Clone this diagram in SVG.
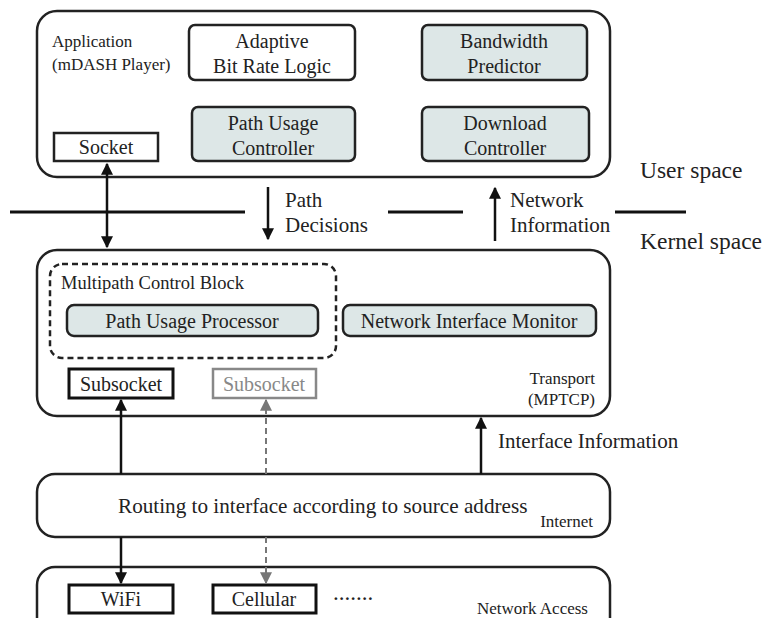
<svg xmlns="http://www.w3.org/2000/svg" width="767" height="618" viewBox="0 0 767 618">
<style>
text{font-family:"Liberation Serif","Times New Roman",serif;fill:#222}
.layer{fill:#fff;stroke:#222;stroke-width:2.5}
.blk{fill:#fff;stroke:#222;stroke-width:2.5}
.sh{fill:#dde7e7;stroke:#222;stroke-width:2.5}
.sq{fill:#fff;stroke:#222;stroke-width:2.5}
.c{text-anchor:middle;font-size:20px}
.lb{font-size:21px}
.sm{font-size:17px}
.se{font-size:17px;text-anchor:end}
.big{font-size:23.5px}
.ln{stroke:#111;stroke-width:2.5;fill:none}
.gd{stroke:#777;stroke-width:2;fill:none;stroke-dasharray:6,4}
</style>
<defs>
<marker id="a" viewBox="0 0 10 10" refX="9" refY="5" markerWidth="12" markerHeight="12" orient="auto-start-reverse" markerUnits="userSpaceOnUse"><path d="M0,0 L10,5 L0,10 z" fill="#111"/></marker>
<marker id="ag" viewBox="0 0 10 10" refX="9" refY="5" markerWidth="12" markerHeight="12" orient="auto-start-reverse" markerUnits="userSpaceOnUse"><path d="M0,0 L10,5 L0,10 z" fill="#777"/></marker>
</defs>

<g id="separator">
<line x1="10" y1="212" x2="245" y2="212" stroke="#111" stroke-width="3"/>
<line x1="388" y1="212" x2="463" y2="212" stroke="#111" stroke-width="3"/>
<line x1="615" y1="212" x2="686" y2="212" stroke="#111" stroke-width="3"/>
<text x="640" y="178" class="big">User space</text>
<text x="640" y="249" class="big">Kernel space</text>
</g>

<g id="application">
<rect x="37" y="11" width="573" height="166" rx="20" class="layer"/>
<text x="52" y="47" class="sm">Application</text>
<text x="52" y="70" class="sm">(mDASH Player)</text>
</g>
<g id="abr">
<rect x="189" y="25" width="166" height="55" rx="6" class="blk"/>
<text x="272" y="48" class="c">Adaptive</text>
<text x="272" y="73" class="c">Bit Rate Logic</text>
</g>
<g id="bandwidth">
<rect x="422" y="25" width="165" height="55" rx="6" class="sh"/>
<text x="504" y="48" class="c">Bandwidth</text>
<text x="504" y="73" class="c">Predictor</text>
</g>
<g id="puc">
<rect x="192" y="107" width="163" height="54" rx="6" class="sh"/>
<text x="273" y="130" class="c">Path Usage</text>
<text x="273" y="155" class="c">Controller</text>
</g>
<g id="download">
<rect x="422" y="107" width="167" height="54" rx="6" class="sh"/>
<text x="505" y="130" class="c">Download</text>
<text x="505" y="155" class="c">Controller</text>
</g>
<g id="socket">
<rect x="54" y="133" width="104" height="28" class="sq"/>
<text x="106" y="154" class="c">Socket</text>
</g>

<g id="transport">
<rect x="37" y="250" width="573" height="166" rx="20" class="layer"/>
<text x="595" y="384" class="se">Transport</text>
<text x="595" y="405" class="se">(MPTCP)</text>
</g>
<g id="mpcb">
<rect x="50" y="264" width="286" height="94" rx="12" fill="none" stroke="#222" stroke-width="2.5" stroke-dasharray="6,4"/>
<text x="61" y="289" font-size="18.5">Multipath Control Block</text>
</g>
<g id="pup">
<rect x="67" y="305" width="251" height="31" rx="7" class="sh"/>
<text x="192" y="328" class="c">Path Usage Processor</text>
</g>
<g id="nim">
<rect x="343" y="305" width="253" height="31" rx="7" class="sh"/>
<text x="469" y="328" class="c">Network Interface Monitor</text>
</g>
<g id="subsocket1">
<rect x="69" y="369" width="104" height="29" fill="#fff" stroke="#111" stroke-width="3"/>
<text x="121" y="391" class="c">Subsocket</text>
</g>
<g id="subsocket2">
<rect x="213" y="369" width="103" height="29" fill="#fff" stroke="#888" stroke-width="2.5"/>
<text x="264" y="391" class="c" style="fill:#888">Subsocket</text>
</g>

<g id="internet">
<rect x="37" y="474" width="573" height="63" rx="18" class="layer"/>
<text x="118" y="513" font-size="21.2">Routing to interface according to source address</text>
<text x="593" y="527" class="se">Internet</text>
</g>

<g id="netaccess">
<rect x="37" y="567" width="573" height="80" rx="18" class="layer"/>
<text x="588" y="614" class="se">Network Access</text>
</g>
<g id="wifi">
<rect x="69" y="585" width="104" height="28" fill="#fff" stroke="#111" stroke-width="3"/>
<text x="121" y="606" class="c">WiFi</text>
</g>
<g id="cellular">
<rect x="213" y="585" width="103" height="28" fill="#fff" stroke="#111" stroke-width="3"/>
<text x="264" y="606" class="c">Cellular</text>
</g>
<text x="333" y="600" font-size="23">.......</text>

<g id="connectors">
<line x1="107" y1="164" x2="107" y2="247" class="ln" marker-start="url(#a)" marker-end="url(#a)"/>
<line x1="268" y1="187" x2="268" y2="239" class="ln" marker-end="url(#a)"/>
<text x="285" y="207" class="lb">Path</text>
<text x="285" y="232" class="lb">Decisions</text>
<line x1="495" y1="241" x2="495" y2="188" class="ln" marker-end="url(#a)"/>
<text x="510" y="207" class="lb">Network</text>
<text x="510" y="232" class="lb">Information</text>
<line x1="121" y1="474" x2="121" y2="400" class="ln" marker-end="url(#a)"/>
<line x1="266" y1="474" x2="266" y2="400" class="gd" marker-end="url(#ag)"/>
<line x1="481" y1="474" x2="481" y2="418" class="ln" marker-end="url(#a)"/>
<text x="498" y="448" class="lb">Interface Information</text>
<line x1="121" y1="537" x2="121" y2="583" class="ln" marker-end="url(#a)"/>
<line x1="266" y1="537" x2="266" y2="583" class="gd" marker-end="url(#ag)"/>
</g>
</svg>
